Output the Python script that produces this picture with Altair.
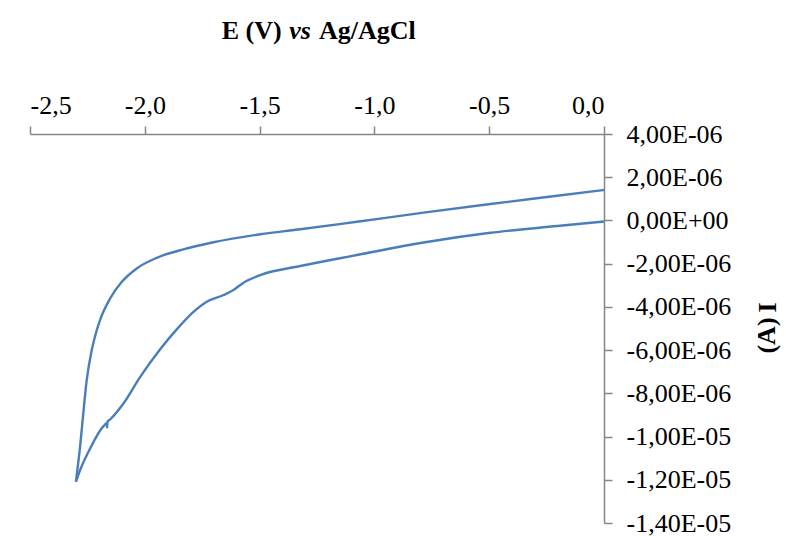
import altair as alt
import pandas as pd

# Cathodic sweep (0 V -> -2.3 V), current in microamps
E_fwd = [0.0, -0.204, -0.495, -0.786, -1.076, -1.323, -1.497, -1.570, -1.614, -1.657,
         -1.730, -1.788, -1.861, -1.933, -2.020, -2.093, -2.150, -2.163, -2.164, -2.165,
         -2.180, -2.238, -2.282, -2.300]
I_fwd = [-0.05, -0.26, -0.57, -1.02, -1.60, -2.11, -2.53, -2.88, -3.22, -3.45,
         -3.76, -4.23, -5.04, -5.96, -7.24, -8.47, -9.20, -9.33, -9.58, -9.38,
         -9.52, -10.55, -11.56, -12.09]

# Anodic sweep (-2.3 V -> 0 V)
E_rev = [-2.300, -2.282, -2.268, -2.253, -2.231, -2.209, -2.195, -2.151, -2.100,
         -2.035, -1.948, -1.832, -1.701, -1.497, -1.323, -1.076, -0.786, -0.495, -0.204, 0.0]
I_rev = [-12.09, -10.48, -8.93, -7.39, -6.00, -5.07, -4.61, -3.61, -2.84,
         -2.22, -1.73, -1.34, -1.01, -0.64, -0.41, -0.06, 0.36, 0.76, 1.14, 1.41]

x_ticks = [-2.5, -2.0, -1.5, -1.0, -0.5, 0.0]
y_ticks = [4e-6, 2e-6, 0.0, -2e-6, -4e-6, -6e-6, -8e-6, -1e-5, -1.2e-5, -1.4e-5]

title_parts = ["E (V)", "vs", "Ag/AgCl"]
y_title_parts = ["I", "(A)"]

rows = []
for e, c in zip(E_fwd, I_fwd):
    rows.append({"E": e, "I": c * 1e-6, "sweep": "cathodic"})
for e, c in zip(E_rev, I_rev):
    rows.append({"E": e, "I": c * 1e-6, "sweep": "anodic"})
df = pd.DataFrame(rows)

FONT = "Liberation Serif"
GREY = "#868686"
FS = 26

ex = "floor(log(abs(datum.value))/LN10 + 1e-9)"
y_label_expr = (
    "datum.value == 0 ? '0,00E+00' : "
    "(datum.value < 0 ? '-' : '') + "
    f"replace(format(abs(datum.value) / pow(10, {ex}), '.2f'), '.', ',') + 'E' + "
    f"({ex} < 0 ? '-' : '+') + (abs({ex}) < 10 ? '0' : '') + abs({ex})"
)
x_label_expr = "(datum.value < 0 ? '-' : '') + replace(format(abs(datum.value), '.1f'), '.', ',')"

line = alt.Chart(df).mark_line(color="#4A7EBB", strokeWidth=2.4, interpolate="monotone").encode(
    x=alt.X("E:Q",
            scale=alt.Scale(domain=[-2.5, 0.0], nice=False, zero=False),
            axis=alt.Axis(orient="top", values=x_ticks, labelExpr=x_label_expr,
                          title=None, grid=False, labelFont=FONT, labelFontSize=FS,
                          labelColor="black", domainColor=GREY, tickColor=GREY,
                          domainWidth=1.5, tickWidth=1.5, tickSize=8, labelPadding=8)),
    y=alt.Y("I:Q",
            scale=alt.Scale(domain=[-1.4e-5, 4e-6], nice=False, zero=False),
            axis=alt.Axis(orient="right", values=y_ticks, labelExpr=y_label_expr,
                          title=None, grid=False, labelFont=FONT, labelFontSize=FS,
                          labelColor="black", domainColor=GREY, tickColor=GREY,
                          domainWidth=1.5, tickWidth=1.5, tickSize=8, labelPadding=14,
                          labelAlign="left", labelBaseline="middle")),
    detail="sweep:N",
    order="E:Q",
)

tdf = pd.DataFrame({"t": title_parts})
t1 = alt.Chart(tdf).transform_filter(alt.datum.t == title_parts[0]).mark_text(
    font=FONT, fontSize=FS, fontWeight="bold", align="right", baseline="alphabetic",
    color="black").encode(text="t:N", x=alt.value(251.7), y=alt.value(-95))
t2 = alt.Chart(tdf).transform_filter(alt.datum.t == title_parts[1]).mark_text(
    font=FONT, fontSize=FS, fontWeight="bold", fontStyle="italic", align="center",
    baseline="alphabetic", color="black").encode(text="t:N", x=alt.value(270), y=alt.value(-95))
t3 = alt.Chart(tdf).transform_filter(alt.datum.t == title_parts[2]).mark_text(
    font=FONT, fontSize=FS, fontWeight="bold", align="left", baseline="alphabetic",
    color="black").encode(text="t:N", x=alt.value(289), y=alt.value(-95))

ydf = pd.DataFrame({"t": y_title_parts})
y1 = alt.Chart(ydf).transform_filter(alt.datum.t == y_title_parts[0]).mark_text(
    font=FONT, fontSize=FS, fontWeight="bold", align="center", baseline="middle",
    angle=270, color="black").encode(text="t:N", x=alt.value(738), y=alt.value(173.5))
y2 = alt.Chart(ydf).transform_filter(alt.datum.t == y_title_parts[1]).mark_text(
    font=FONT, fontSize=FS, fontWeight="bold", align="center", baseline="middle",
    angle=270, color="black").encode(text="t:N", x=alt.value(737), y=alt.value(201.5))

chart = alt.layer(line, t1, t2, t3, y1, y2).properties(
    width=574, height=389,
    autosize=alt.AutoSizeParams(type="none"),
    padding={"left": 22, "top": 126, "right": 177, "bottom": 14},
    background="white",
).configure_view(stroke=None)

chart.save("out.html", embed_options={"renderer": "svg", "actions": False})
